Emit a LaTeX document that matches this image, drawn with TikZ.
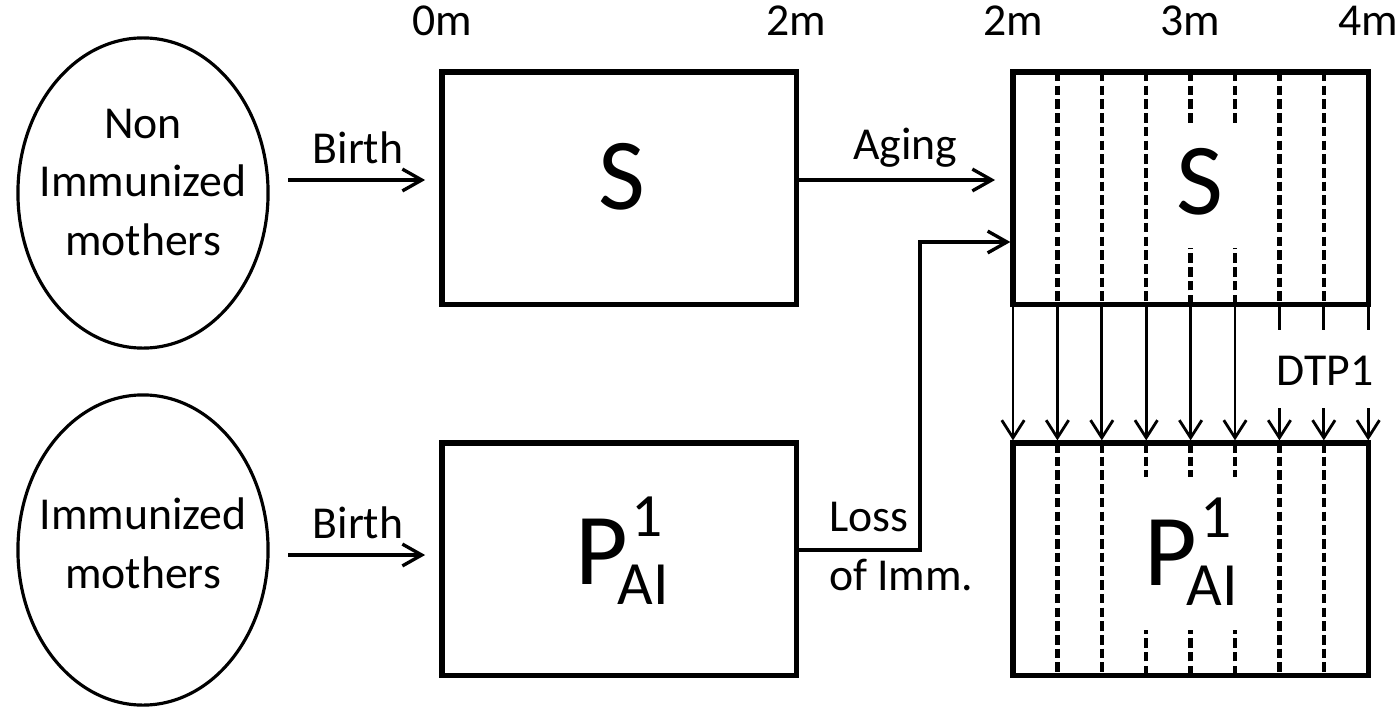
\documentclass[tikz,border=0pt]{standalone}
\usepackage{fontspec}
\setmainfont{Carlito}
\usetikzlibrary{arrows.meta,shapes.geometric,calc}
\begin{document}
\begin{tikzpicture}[x=0.01cm,y=-0.01cm,
  boxL/.style={draw, line width=1.5pt, minimum width=3.54cm, minimum height=2.32cm, inner sep=0pt, outer sep=0pt, anchor=north west},
  boxR/.style={draw, line width=1.5pt, minimum width=3.55cm, minimum height=2.32cm, inner sep=0pt, outer sep=0pt, anchor=north west},
  mother/.style={draw, ellipse, line width=0.9pt, minimum width=2.5cm, minimum height=3.1cm, inner sep=0pt, outer sep=0pt},
  txt/.style={font=\fontsize{13}{16.6}\selectfont, inner sep=0pt, outer sep=0pt},
  big/.style={font=\fontsize{29}{29}\selectfont, inner sep=0pt, outer sep=0pt},
  arr/.style={line width=0.95pt, -{Straight Barb[length=5.5pt,width=6.2pt]}},
  varr/.style={line width=0.8pt, -{Straight Barb[length=5pt,width=6.4pt]}},
  stub/.style={line width=0.8pt},
  dsh/.style={line width=1.25pt, dash pattern=on 2.7pt off 1.2pt}
]
\useasboundingbox (0,0) rectangle (1400,712);

% mothers
\node[mother] (M1) at (143,193) {};
\node[mother] (M2) at (143,550) {};
\node[txt, anchor=base, align=center] (M1t) at (143,255) {Non\\Immunized\\mothers};
\node[txt, anchor=base, align=center] (M2t) at (143,588) {Immunized\\mothers};

% boxes
\node[boxL] (SL) at (442,72) {};
\node[boxL] (PL) at (442,443) {};
\node[boxR] (SR) at (1013,72) {};
\node[boxR] (PR) at (1013,443) {};

% box labels
\node[big, anchor=base] (SLt) at (622,209) {S};
\node[big, anchor=base] (SRt) at (1200,214) {S};
\newcommand{\pailabel}{P\rlap{\kern1.1pt\raisebox{13.6pt}{\fontsize{17.5}{17.5}\selectfont 1}}\kern-2.8pt\raisebox{-5.7pt}{\fontsize{17.5}{17.5}\selectfont AI}}
\node[big, anchor=base west] (PLt) at (575,584) {\pailabel};
\node[big, anchor=base west] (PRt) at (1144,585) {\pailabel};

% age labels
\node[txt, anchor=base] (a0) at ($(SL.north west)+(0,-37)$) {0m};
\node[txt, anchor=base] (a2) at ($(SL.north east)+(0,-37)$) {2m};
\node[txt, anchor=base] (a2r) at ($(SR.north west)+(0,-37)$) {2m};
\node[txt, anchor=base] (a3) at ($(SR.north west)!0.5!(SR.north east)+(0,-37)$) {3m};
\node[txt, anchor=base] (a4) at ($(SR.north east)+(0,-37)$) {4m};

% dashed subdivisions
\foreach \k in {1,...,7}{
  \coordinate (st\k) at ($(SR.north west)!\k/8!(SR.north east)$);
  \coordinate (sb\k) at ($(SR.south west)!\k/8!(SR.south east)$);
  \coordinate (pt\k) at ($(PR.north west)!\k/8!(PR.north east)$);
  \coordinate (pb\k) at ($(PR.south west)!\k/8!(PR.south east)$);
}
\foreach \k in {1,2,3,6,7}{ \draw[dsh] (st\k) -- (sb\k); }
\foreach \k in {4,5}{ \draw[dsh] (st\k) -- ++(0,51); \draw[dsh] (sb\k) -- ++(0,-56); }
\foreach \k in {1,2,6,7}{ \draw[dsh] (pt\k) -- (pb\k); }
\foreach \k in {3,4,5}{ \draw[dsh] (pt\k) -- ++(0,34); \draw[dsh] (pb\k) -- ++(0,-45); }

% births
\coordinate (b1) at (288,180);
\coordinate (b2) at (288,555);
\draw[arr, shorten >=4.8pt] (b1) -- (b1 -| SL.west);
\draw[arr, shorten >=4.8pt] (b2) -- (b2 -| PL.west);
\node[txt, anchor=base] (bt1) at (358,163) {Birth};
\node[txt, anchor=base] (bt2) at (358,538) {Birth};

% aging
\draw[arr, shorten >=5.1pt] (SL.east |- b1) -- (SR.west |- b1);
\node[txt, anchor=base] (ag) at (905,159) {Aging};

% loss of immunity
\coordinate (l1) at (920,550);
\coordinate (l2) at (920,242);
\draw[arr, shorten >=0.75pt] (PL.east |- l1) -- (l1) -- (l2) -- (l2 -| SR.west);
\node[txt, anchor=base west, align=left] (loss) at (829,590) {Loss\\of Imm.};

% vaccination arrows
\foreach \k in {0,...,5}{
  \draw[varr, shorten >=0.75pt] ($(SR.south west)!\k/8!(SR.south east)$) -- ($(PR.north west)!\k/8!(PR.north east)$);
}
\foreach \k in {6,7,8}{
  \draw[stub] ($(SR.south west)!\k/8!(SR.south east)$) -- ++(0,26);
  \draw[varr, shorten >=0.75pt] ($(SR.south west)!\k/8!(SR.south east)+(0,104)$) -- ($(PR.north west)!\k/8!(PR.north east)$);
}
\node[txt, anchor=base] (dtp) at (1325,385) {DTP1};
\end{tikzpicture}
\end{document}
